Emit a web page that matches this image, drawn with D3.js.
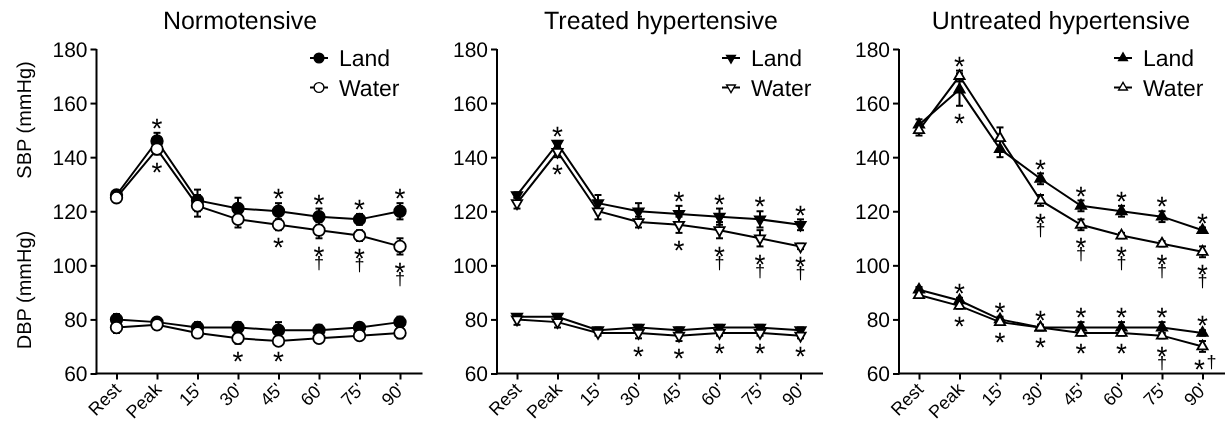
<!DOCTYPE html>
<html><head><meta charset="utf-8">
<script src="https://cdn.jsdelivr.net/npm/d3@7"></script>
<style>
body{margin:0;background:#fff}
svg{will-change:transform}
svg text{font-family:"Liberation Sans",Arial,Helvetica,sans-serif;fill:#000;-webkit-font-smoothing:antialiased;text-rendering:geometricPrecision}
</style></head>
<body><svg id="chart" width="1228" height="421"></svg>
<script>
// ---------- data ----------
const timepoints = ["Rest","Peak","15'","30'","45'","60'","75'","90'"];
const yTicks = [60,80,100,120,140,160,180];
const panelTitles = ["Normotensive","Treated hypertensive","Untreated hypertensive"];
const seriesNames = ["Land","Water"];
const yAxisTitles = ["SBP (mmHg)","DBP (mmHg)"];

// Normotensive
const normSbpLand      = [126,146,124,121,120,118,117,120];
const normSbpLandErr   = [1,3,4,4,3,3,2,3];
const normSbpWater     = [125,143,122,117,115,113,111,107];
const normSbpWaterErr  = [1,2,4,3,2,3,2,3];
const normDbpLand      = [80,79,77,77,76,76,77,79];
const normDbpLandErr   = [2,1,2,2,3,2,1,2];
const normDbpWater     = [77,78,75,73,72,73,74,75];
const normDbpWaterErr  = [2,1,1,2,1,1,1,2];
const normSbpLandSig   = ["","*","","","*","*","*","*"];
const normSbpWaterSig  = ["","*","","","*","*\n†","*\n†","*\n†"];
const normDbpLandSig   = ["","","","","","","",""];
const normDbpWaterSig  = ["","","","*","*","","",""];

// Treated hypertensive
const trSbpLand        = [126,145,123,120,119,118,117,115];
const trSbpLandErr     = [1,1,3,3,3,3,3,2];
const trSbpWater       = [123,142,120,116,115,113,110,107];
const trSbpWaterErr    = [2,2,3,2,3,3,3,1];
const trDbpLand        = [81,81,76,77,76,77,77,76];
const trDbpLandErr     = [1,1,1,1,1,1,1,1];
const trDbpWater       = [80,79,75,75,74,75,75,74];
const trDbpWaterErr    = [2,2,1,2,2,1,1,1];
const trSbpLandSig     = ["","*","","","*","*","*","*"];
const trSbpWaterSig    = ["","*","","","*","*\n†","*\n†","*\n†"];
const trDbpLandSig     = ["","","","","","","",""];
const trDbpWaterSig    = ["","","","*","*","*","*","*"];

// Untreated hypertensive
const utSbpLand        = [152,165,143,132,122,120,118,113];
const utSbpLandErr     = [2,6,3,2,2,2,2,1];
const utSbpWater       = [150,170,147,124,115,111,108,105];
const utSbpWaterErr    = [2,2,4,2,2,1,1,2];
const utDbpLand        = [91,87,80,77,77,77,77,75];
const utDbpLandErr     = [1,1,1,1,2,2,2,1];
const utDbpWater       = [89,85,79,77,75,75,74,70];
const utDbpWaterErr    = [1,1,1,1,1,1,1,2];
const utSbpLandSig     = ["","*","","*","*","*","*","*"];
const utSbpWaterSig    = ["","*","","*\n†","*\n†","*\n†","*\n†","*\n†"];
const utDbpLandSig     = ["","*","*","*","*","*","*","*"];
const utDbpWaterSig    = ["","*","*","*","*","*","*\n†","*†"];

// ---------- assemble ----------
const panels = [
  {title: panelTitles[0], marker: "circle",
   groups: [
     {land: normSbpLand, landErr: normSbpLandErr, landSig: normSbpLandSig, water: normSbpWater, waterErr: normSbpWaterErr, waterSig: normSbpWaterSig},
     {land: normDbpLand, landErr: normDbpLandErr, landSig: normDbpLandSig, water: normDbpWater, waterErr: normDbpWaterErr, waterSig: normDbpWaterSig}]},
  {title: panelTitles[1], marker: "down",
   groups: [
     {land: trSbpLand, landErr: trSbpLandErr, landSig: trSbpLandSig, water: trSbpWater, waterErr: trSbpWaterErr, waterSig: trSbpWaterSig},
     {land: trDbpLand, landErr: trDbpLandErr, landSig: trDbpLandSig, water: trDbpWater, waterErr: trDbpWaterErr, waterSig: trDbpWaterSig}]},
  {title: panelTitles[2], marker: "up",
   groups: [
     {land: utSbpLand, landErr: utSbpLandErr, landSig: utSbpLandSig, water: utSbpWater, waterErr: utSbpWaterErr, waterSig: utSbpWaterSig},
     {land: utDbpLand, landErr: utDbpLandErr, landSig: utDbpLandSig, water: utDbpWater, waterErr: utDbpWaterErr, waterSig: utDbpWaterSig}]}
];

// ---------- layout ----------
const axisXs = [96.5, 497, 899];
const titleXs = [240, 661, 1061];
const legendXs = [310, 722, 1114];
const axisLen = 326, firstTick = 20, lastTick = 303.5;
const yTop = 49, yBot = 373.5;

const svg = d3.select("#chart");
const y = d3.scaleLinear().domain([60,180]).range([yBot, yTop]);

function markerPath(type){
  if (type === "circle") return d3.symbol().type(d3.symbolCircle).size(105)();
  return d3.symbol().type(d3.symbolTriangle).size(46)();
}
function markerTransform(type, x, yy){
  return type === "down" ? `translate(${x},${yy}) rotate(180)` : `translate(${x},${yy})`;
}

// y-axis titles
yAxisTitles.forEach((t,i)=>{
  svg.append("text")
    .attr("transform",`translate(31,${i===0?120:290}) rotate(-90)`)
    .attr("text-anchor","middle").style("font-size","20px").text(t);
});

const starFs = 28, dagFs = 18;
const starOff = 0.58*starFs, dagOff = 0.29*dagFs, stackGap = 14;

panels.forEach((p, pi) => {
  const ax = axisXs[pi];
  const g = svg.append("g");
  const x = d3.scalePoint().domain(timepoints).range([ax+firstTick, ax+lastTick]);

  g.append("text").attr("x", titleXs[pi]).attr("y", 29).attr("text-anchor","middle")
    .style("font-size","25px").text(p.title);

  const ya = g.append("g").attr("transform",`translate(${ax},0)`)
    .call(d3.axisLeft(y).tickValues(yTicks).tickSize(6).tickSizeOuter(0).tickPadding(3));
  ya.selectAll("text").style("font-size","21px").attr("dy","0.35em");
  ya.select(".domain").attr("stroke-width",2).attr("d",`M0,${yBot+1}V${yTop}`);
  ya.selectAll(".tick line").attr("stroke-width",2);

  const xa = g.append("g").attr("transform",`translate(0,${yBot})`)
    .call(d3.axisBottom(x).tickSize(6).tickSizeOuter(0));
  xa.select(".domain").attr("stroke-width",2).attr("d",`M${ax-1},0H${ax+axisLen}`);
  xa.selectAll(".tick line").attr("stroke-width",2);
  xa.selectAll("text").attr("x",0).attr("y",0).attr("dy",0)
    .attr("transform","translate(5,17) rotate(-45)")
    .attr("text-anchor","end").style("font-size","18px");

  const line = d3.line().x((d,i)=>x(timepoints[i])).y(d=>y(d));

  p.groups.forEach(gr => {
    const series = [
      {vals: gr.land, err: gr.landErr, sig: gr.landSig, other: gr.water, fill: "#000", tieAbove: true},
      {vals: gr.water, err: gr.waterErr, sig: gr.waterSig, other: gr.land, fill: "#fff", tieAbove: false}
    ];
    series.forEach(s => {
      g.append("path").attr("d", line(s.vals)).attr("fill","none").attr("stroke","#000").attr("stroke-width",2);
    });
    series.forEach(s => {
      s.vals.forEach((v,i)=>{
        const cx = x(timepoints[i]);
        const y1 = y(v + s.err[i]), y0 = y(v - s.err[i]);
        g.append("line").attr("x1",cx).attr("x2",cx).attr("y1",y1).attr("y2",y0).attr("stroke","#000").attr("stroke-width",2);
        [y1,y0].forEach(yy=> g.append("line").attr("x1",cx-3.5).attr("x2",cx+3.5).attr("y1",yy).attr("y2",yy).attr("stroke","#000").attr("stroke-width",2));
      });
    });
    series.forEach(s => {
      s.vals.forEach((v,i)=>{
        g.append("path").attr("d", markerPath(p.marker))
          .attr("transform", markerTransform(p.marker, x(timepoints[i]), y(v)))
          .attr("fill", s.fill).attr("stroke","#000").attr("stroke-width",1.8);
      });
    });
    series.forEach(s => {
      s.sig.forEach((str,i)=>{
        if (!str) return;
        const cx = x(timepoints[i]);
        const above = s.vals[i] > s.other[i] || (s.vals[i] === s.other[i] && s.tieAbove);
        const c = above ? y(s.vals[i] + s.err[i]) - 11 : y(s.vals[i] - s.err[i]) + 11;
        const t = g.append("text").attr("text-anchor","middle").attr("y", c + starOff);
        if (str.includes("\n")) {
          t.append("tspan").attr("x", cx).style("font-size", starFs+"px").text("*");
          t.append("tspan").attr("x", cx).attr("dy", stackGap + dagOff - starOff)
            .style("font-size", dagFs+"px").text("†");
        } else if (str === "*†") {
          t.append("tspan").attr("x", cx-3).style("font-size", starFs+"px").text("*");
          t.append("tspan").attr("x", cx+9).attr("dy", dagOff - starOff)
            .style("font-size", dagFs+"px").text("†");
        } else {
          t.attr("x", cx).style("font-size", starFs+"px").text(str);
        }
      });
    });
  });

  // legend
  const lx = legendXs[pi];
  seriesNames.forEach((nm, k) => {
    const ly = k === 0 ? 58 : 87.5;
    g.append("line").attr("x1",lx).attr("x2",lx+18).attr("y1",ly).attr("y2",ly).attr("stroke","#000").attr("stroke-width",2);
    g.append("path").attr("d", markerPath(p.marker))
      .attr("transform", markerTransform(p.marker, lx+9, ly) + " scale(0.85)")
      .attr("fill", k===0 ? "#000" : "#fff").attr("stroke","#000").attr("stroke-width",1.6);
    g.append("text").attr("x", lx+29).attr("y", ly+8).style("font-size","23px").text(nm);
  });
});
</script></body></html>
